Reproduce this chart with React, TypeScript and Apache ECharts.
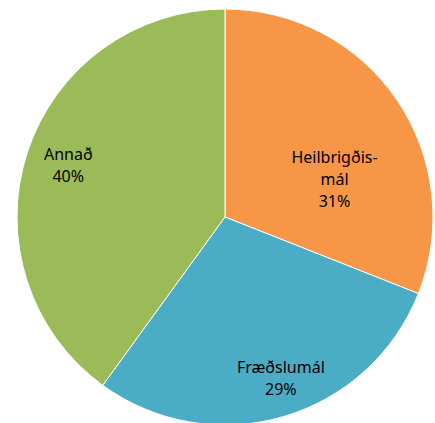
import React, { useEffect, useRef } from "react";
import * as echarts from "echarts";

const categories = ["Heilbrigðis-\nmál", "Fræðslumál", "Annað"];
const values = [31, 29, 40];
const colors = ["#F79646", "#4BACC6", "#9BBB59"];
const labelOffsets = [[21, 22], [26, 58], [-55, -19]];

export default function App() {
  const ref = useRef<HTMLDivElement>(null);
  useEffect(() => {
    if (!ref.current) return;
    const chart = echarts.init(ref.current, undefined, { renderer: "svg" });
    chart.setOption({
      animation: false,
      series: [
        {
          type: "pie",
          center: [225, 217],
          radius: [0, 208],
          startAngle: 90,
          clockwise: true,
          percentPrecision: 0,
          itemStyle: { borderColor: "#ffffff", borderWidth: 1 },
          label: {
            show: true,
            position: "inside",
            formatter: "{b}\n{d}%",
            color: "#000000",
            fontFamily: "Noto Sans",
            fontSize: 16,
            lineHeight: 22,
            align: "center",
          },
          labelLine: { show: false },
          emphasis: { disabled: true },
          data: categories.map((name, i) => ({
            name,
            value: values[i],
            itemStyle: { color: colors[i] },
            label: { offset: labelOffsets[i] },
          })),
        },
      ],
    });
    return () => chart.dispose();
  }, []);
  return (
    <div
      ref={ref}
      style={{ position: "fixed", left: 0, top: 0, width: 435, height: 423, background: "#ffffff" }}
    />
  );
}
